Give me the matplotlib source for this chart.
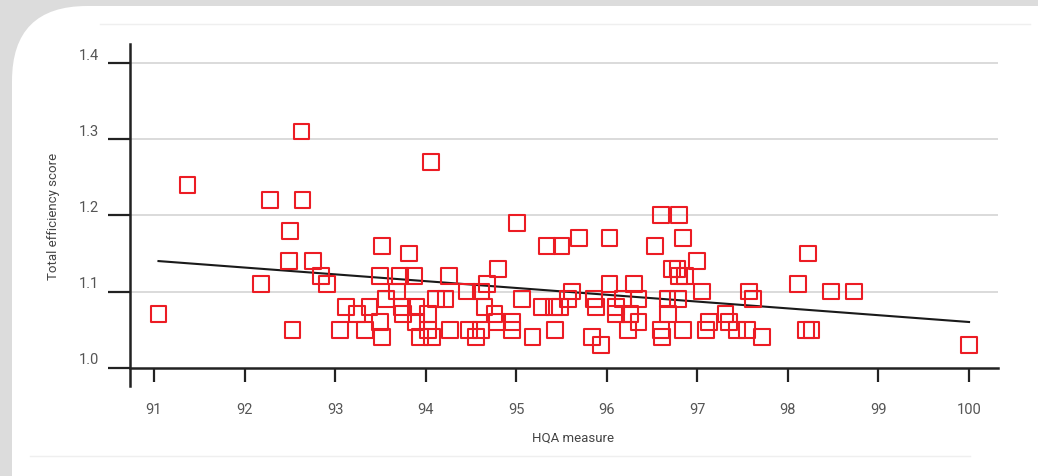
import matplotlib
matplotlib.use("Agg")
import matplotlib.pyplot as plt
from matplotlib.patches import FancyBboxPatch
from matplotlib.lines import Line2D

# HQA measure vs total efficiency score
hqa = [91.05, 91.37, 92.18, 92.28, 92.49, 92.50, 92.53, 92.63, 92.64, 92.76,
       92.84, 92.91, 93.05, 93.12, 93.24, 93.33, 93.38, 93.50, 93.50, 93.52,
       93.52, 93.56, 93.68, 93.72, 93.74, 93.75, 93.82, 93.87, 93.89, 93.89,
       93.94, 94.03, 94.03, 94.06, 94.07, 94.11, 94.22, 94.26, 94.27, 94.46,
       94.48, 94.56, 94.61, 94.61, 94.65, 94.68, 94.76, 94.79, 94.80, 94.95,
       94.95, 95.01, 95.06, 95.18, 95.28, 95.34, 95.42, 95.43, 95.48, 95.50,
       95.57, 95.62, 95.69, 95.84, 95.86, 95.88, 95.94, 96.03, 96.03, 96.10,
       96.10, 96.18, 96.23, 96.26, 96.30, 96.35, 96.35, 96.53, 96.60, 96.60,
       96.61, 96.72, 96.78, 96.67, 96.68, 96.79, 96.80, 96.80, 96.86, 96.84,
       96.84, 97.00, 97.05, 97.10, 97.13, 97.31, 97.35, 97.44, 97.55, 97.57,
       97.61, 97.71, 98.11, 98.22, 98.20, 98.26, 98.48, 98.73, 100.00]
score = [1.07, 1.24, 1.11, 1.22, 1.14, 1.18, 1.05, 1.31, 1.22, 1.14,
         1.12, 1.11, 1.05, 1.08, 1.07, 1.05, 1.08, 1.12, 1.06, 1.04,
         1.16, 1.09, 1.10, 1.12, 1.08, 1.07, 1.15, 1.12, 1.08, 1.06,
         1.04, 1.07, 1.05, 1.27, 1.04, 1.09, 1.09, 1.12, 1.05, 1.10,
         1.05, 1.04, 1.10, 1.05, 1.08, 1.11, 1.07, 1.06, 1.13, 1.06,
         1.05, 1.19, 1.09, 1.04, 1.08, 1.16, 1.08, 1.05, 1.08, 1.16,
         1.09, 1.10, 1.17, 1.04, 1.09, 1.08, 1.03, 1.11, 1.17, 1.08,
         1.07, 1.09, 1.05, 1.07, 1.11, 1.09, 1.06, 1.16, 1.20, 1.05,
         1.04, 1.13, 1.13, 1.09, 1.07, 1.09, 1.20, 1.12, 1.12, 1.17,
         1.05, 1.14, 1.10, 1.05, 1.06, 1.07, 1.06, 1.05, 1.05, 1.10,
         1.09, 1.04, 1.11, 1.15, 1.05, 1.05, 1.10, 1.10, 1.03]

# trend line end points
trend_x = [91.05, 100.0]
trend_y = [1.14, 1.06]

xticks = [91, 92, 93, 94, 95, 96, 97, 98, 99, 100]
yticks = [1.0, 1.1, 1.2, 1.3, 1.4]
ytick_labels = ["1.0", "1.1", "1.2", "1.3", "1.4"]

plt.rcParams['font.family'] = ['Roboto', 'DejaVu Sans']

W, H = 1038, 477
fig = plt.figure(figsize=(W / 100, H / 100), dpi=100)
fig.patch.set_facecolor('#dcdcdc')

# white card with a rounded top-left corner
card = FancyBboxPatch((12 / W, -0.3), 1.2, 1.3 - 7 / H,
                      boxstyle="round,pad=0,rounding_size=%f" % (75 / W),
                      mutation_aspect=W / H, transform=fig.transFigure,
                      facecolor='white', edgecolor='none', zorder=-5)
fig.patches.append(card)
fig.lines.append(Line2D([100 / W, 1030 / W], [1 - 25 / H, 1 - 25 / H],
                        transform=fig.transFigure, color='#efefef', lw=1,
                        zorder=-4))
fig.lines.append(Line2D([30 / W, 970 / W], [1 - 457 / H, 1 - 457 / H],
                        transform=fig.transFigure, color='#efefef', lw=1,
                        zorder=-4))

ax = fig.add_axes([0.1252, 0.1887, 0.8363, 0.717])
ax.set_zorder(1)
ax.set_facecolor('none')
ax.set_xlim(90.735, 100.32)
ax.set_ylim(0.976, 1.425)

for y in yticks[1:]:
    ax.axhline(y, color='#d4d4d4', linewidth=1.2, zorder=1)

ax.plot(trend_x, trend_y, color='#1a1a1a', linewidth=1.5, zorder=3)
ax.scatter(hqa, score, marker='s', s=130, facecolors='none',
           edgecolors='#ec1c24', linewidths=1.5, zorder=4)

for s in ['top', 'right']:
    ax.spines[s].set_visible(False)
ax.spines['bottom'].set_position(('data', 1.0))
for s in ['left', 'bottom']:
    ax.spines[s].set_color('#222222')
    ax.spines[s].set_linewidth(1.8)

ax.set_xticks(xticks)
ax.set_xticklabels([str(v) for v in xticks])
ax.tick_params(axis='x', direction='out', length=10, width=1.6,
               color='#222222', labelsize=10.5, labelcolor='#555555', pad=15)
ax.set_yticks(yticks)
ax.set_yticklabels([])
ax.tick_params(axis='y', direction='out', length=15.8, width=1.6,
               color='#222222')

for v, lab in zip(yticks, ytick_labels):
    ax.annotate(lab, xy=(0, v), xycoords=('axes fraction', 'data'),
                xytext=(-22, 6), textcoords='offset points',
                ha='right', va='center', fontsize=10.5, color='#555555')

ax.set_xlabel('HQA measure', fontsize=9.5, color='#444444')
ax.xaxis.set_label_coords(0.51, -0.13)
ax.set_ylabel('Total efficiency score', fontsize=9.5, color='#444444')
ax.yaxis.set_label_coords(-0.081, 0.5)

fig.savefig('out.png', dpi=100, facecolor=fig.get_facecolor())
